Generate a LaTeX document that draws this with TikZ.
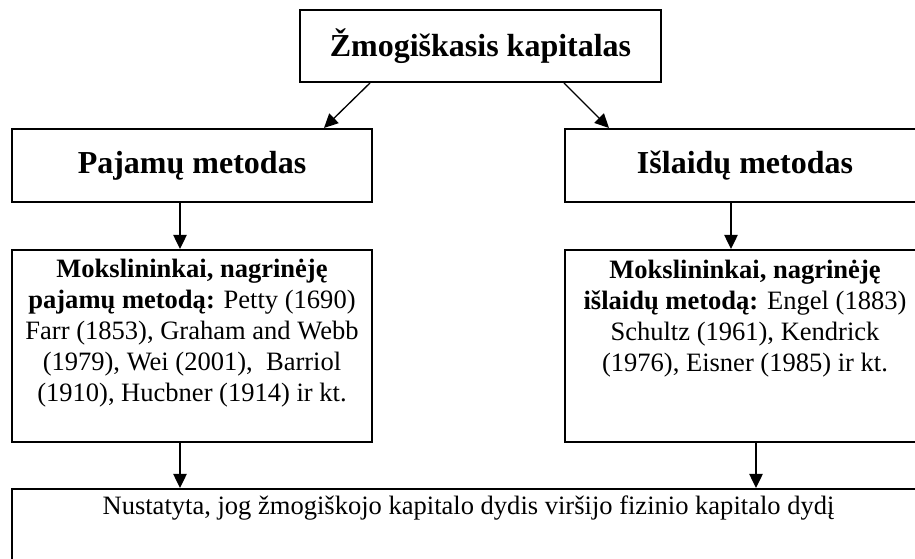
\documentclass[tikz,border=0pt]{standalone}
\usepackage{fontspec}
\setmainfont{Liberation Serif}
\usetikzlibrary{arrows.meta,calc}
\begin{document}
\begin{tikzpicture}[x=0.75pt,y=-0.75pt,
  box/.style={draw, line width=1.5pt, inner sep=0pt},
  arr/.style={line width=1pt, -{Triangle[length=10.5pt,width=10pt]}},
  titlefont/.style={font=\fontsize{24}{28}\selectfont\bfseries, inner sep=0pt},
  bodyfont/.style={font=\fontsize{19.9}{23.25}\selectfont, align=center, inner sep=0pt}]
\useasboundingbox (0,0) rectangle (915,559);
\clip (0,0) rectangle (915,559);
\node[box, titlefont, minimum width=270.75pt, minimum height=54pt] (top) at (480.5,46) {Žmogiškasis kapitalas};
\node[box, titlefont, minimum width=270pt, minimum height=54.75pt] (paj) at (192,165.5) {Pajamų metodas};
\node[box, minimum width=296.25pt, minimum height=54.75pt] (isl) at (762.5,165.5) {};
\node[titlefont] (islt) at (745,165.5) {Išlaidų metodas};
\node[box, minimum width=270pt, minimum height=144pt] (lm) at (192,346) {};
\node[box, minimum width=296.25pt, minimum height=144pt] (rm) at (762.5,346) {};
\node[box, minimum width=711pt, minimum height=60.75pt] (fin) at (486,529.5) {};
\node[bodyfont, anchor=north] (lmt) at ($(lm.north)+(0,10)$) {\textbf{Mokslininkai, nagrinėję}\\\textbf{pajamų metodą:} Petty (1690)\\Farr (1853), Graham and Webb\\(1979), Wei (2001), \ Barriol\\(1910), Hucbner (1914) ir kt.};
\node[bodyfont, anchor=north] (rmt) at (745,260) {\textbf{Mokslininkai, nagrinėję}\\\textbf{išlaidų metodą:} Engel (1883)\\Schultz (1961), Kendrick\\(1976), Eisner (1985) ir kt.};
\node[bodyfont, anchor=north] (fint) at (468.5,496) {Nustatyta, jog žmogiškojo kapitalo dydis viršijo fizinio kapitalo dydį};
\draw[arr] ($(top.south west)+(71,0)$) -- ($(paj.north west)+(313,0)$);
\draw[arr] ($(top.south west)+(265,0)$) -- ($(isl.north west)+(45,0)$);
\draw[arr] ($(paj.south west)+(169,0)$) -- ($(lm.north west)+(169,0)$);
\draw[arr] ($(isl.south west)+(167,0)$) -- ($(rm.north west)+(167,0)$);
\draw[arr] ($(lm.south west)+(169,0)$) -- ($(fin.north west)+(169,0)$);
\draw[arr] ($(rm.south west)+(192,0)$) -- ($(fin.north west)+(745,0)$);
\end{tikzpicture}
\end{document}
